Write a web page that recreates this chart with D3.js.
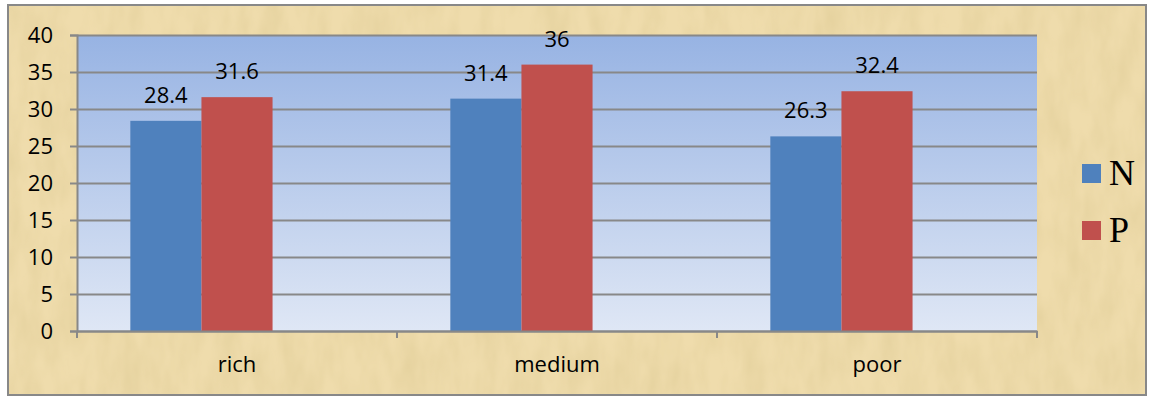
<!DOCTYPE html>
<html>
<head>
<meta charset="utf-8">
<script src="https://cdn.jsdelivr.net/npm/d3@7"></script>
<style>
  body { margin: 0; background: #fff; }
  svg { display: block; }
</style>
</head>
<body>
<script>
const categories = ["rich", "medium", "poor"];
const seriesNames = ["N", "P"];
const nValues = [28.4, 31.4, 26.3];
const pValues = [31.6, 36, 32.4];
const yTicks = [0, 5, 10, 15, 20, 25, 30, 35, 40];
const colors = ["#4f81bd", "#c0504d"];

let width = 1153;
let height = 396;
let marginTop = 35;
let marginLeft = 77;
let plotRight = 1037;
let plotBottom = 331;

const data = categories.map((c, i) => ({ cat: c, values: [nValues[i], pValues[i]] }));

const svg = d3.select("body").append("svg")
    .attr("width", width)
    .attr("height", height)
    .attr("viewBox", [0, 0, width, height]);

const defs = svg.append("defs");

// papyrus-like texture
const tex = defs.append("filter").attr("id", "paper").attr("x", 0).attr("y", 0).attr("width", 1).attr("height", 1);
tex.append("feTurbulence").attr("type", "fractalNoise").attr("baseFrequency", "0.05 0.02").attr("numOctaves", 3).attr("seed", 7).attr("result", "noise");
tex.append("feColorMatrix").attr("in", "noise").attr("type", "matrix")
    .attr("values", "0 0 0 0 0.6  0 0 0 0 0.48  0 0 0 0 0.2  0 0 0 0.4 -0.12");
tex.append("feComposite").attr("in2", "SourceGraphic").attr("operator", "in");

const grad = defs.append("linearGradient").attr("id", "plotbg")
    .attr("x1", 0).attr("y1", 0).attr("x2", 0).attr("y2", 1);
grad.append("stop").attr("offset", "0%").attr("stop-color", "#97b3e3");
grad.append("stop").attr("offset", "100%").attr("stop-color", "#dfe7f5");

// chart background
svg.append("rect")
    .attr("x", 8).attr("y", 5).attr("width", 1138).attr("height", 390)
    .attr("fill", "#efdcac");
svg.append("rect")
    .attr("x", 8).attr("y", 5).attr("width", 1138).attr("height", 390)
    .attr("fill", "#fff")
    .attr("filter", "url(#paper)");
svg.append("rect")
    .attr("x", 8).attr("y", 5).attr("width", 1138).attr("height", 390)
    .attr("fill", "none")
    .attr("stroke", "#888")
    .attr("stroke-width", 2);

const x0 = d3.scaleBand()
    .domain(categories)
    .range([marginLeft, plotRight])
    .paddingInner(0)
    .paddingOuter(0);

// bars sit left of the band centre (room left for an empty third series)
const x1 = d3.scaleBand()
    .domain(seriesNames)
    .range([0, x0.bandwidth()])
    .paddingInner(0)
    .paddingOuter(1.25)
    .align(0.3);

const y = d3.scaleLinear()
    .domain([0, 40])
    .range([plotBottom, marginTop]);

// plot area
svg.append("rect")
    .attr("x", marginLeft).attr("y", marginTop)
    .attr("width", plotRight - marginLeft).attr("height", plotBottom - marginTop)
    .attr("fill", "url(#plotbg)");

const font = "'Open Sans', 'Liberation Sans', Arial, sans-serif";

// y axis with grid
svg.append("g")
    .attr("transform", `translate(${marginLeft},0)`)
    .call(d3.axisLeft(y).tickValues(yTicks).tickSize(7).tickPadding(17))
    .call(g => g.select(".domain").attr("stroke", "#888").attr("stroke-width", 2))
    .call(g => g.selectAll(".tick line").attr("stroke", "#888").attr("stroke-width", 2))
    .call(g => g.selectAll(".tick line").clone()
        .attr("x2", plotRight - marginLeft)
        .attr("stroke", "#888").attr("stroke-width", 2))
    .call(g => g.selectAll("text")
        .attr("fill", "#000")
        .style("font-family", font)
        .style("font-size", "22px"));

// bars
const groups = svg.append("g")
    .selectAll("g")
    .data(data)
    .join("g")
    .attr("transform", d => `translate(${x0(d.cat)},0)`);

groups.selectAll("rect")
    .data(d => d.values.map((v, i) => ({ key: seriesNames[i], value: v, i })))
    .join("rect")
    .attr("x", d => x1(d.key))
    .attr("y", d => y(d.value))
    .attr("width", x1.bandwidth())
    .attr("height", d => y(0) - y(d.value))
    .attr("fill", d => colors[d.i]);

groups.selectAll("text")
    .data(d => d.values.map((v, i) => ({ key: seriesNames[i], value: v, i })))
    .join("text")
    .attr("x", d => x1(d.key) + x1.bandwidth() / 2)
    .attr("y", d => y(d.value) - 18)
    .attr("text-anchor", "middle")
    .style("font-family", font)
    .style("font-size", "22px")
    .attr("fill", "#000")
    .text(d => d.value);

// x axis
svg.append("g")
    .attr("transform", `translate(0,${plotBottom})`)
    .call(d3.axisBottom(x0).tickSize(0).tickPadding(25))
    .call(g => g.select(".domain").attr("stroke", "#888").attr("stroke-width", 2))
    .call(g => g.selectAll("text")
        .attr("fill", "#000")
        .style("font-family", font)
        .style("font-size", "22px"));

// x boundary ticks
svg.append("g")
    .selectAll("line")
    .data([marginLeft, ...categories.map(c => x0(c) + x0.bandwidth())])
    .join("line")
    .attr("x1", d => d).attr("x2", d => d)
    .attr("y1", plotBottom).attr("y2", plotBottom + 7)
    .attr("stroke", "#888")
    .attr("stroke-width", 2);

// legend
const legend = svg.append("g")
    .selectAll("g")
    .data(seriesNames)
    .join("g")
    .attr("transform", (d, i) => `translate(1082,${164 + i * 57})`);

legend.append("rect")
    .attr("width", 19).attr("height", 19)
    .attr("fill", (d, i) => colors[i]);

legend.append("text")
    .attr("x", 27)
    .attr("y", 21)
    .style("font-family", "'Liberation Serif', 'Times New Roman', serif")
    .style("font-size", "36px")
    .attr("fill", "#000")
    .text(d => d);
</script>
</body>
</html>
